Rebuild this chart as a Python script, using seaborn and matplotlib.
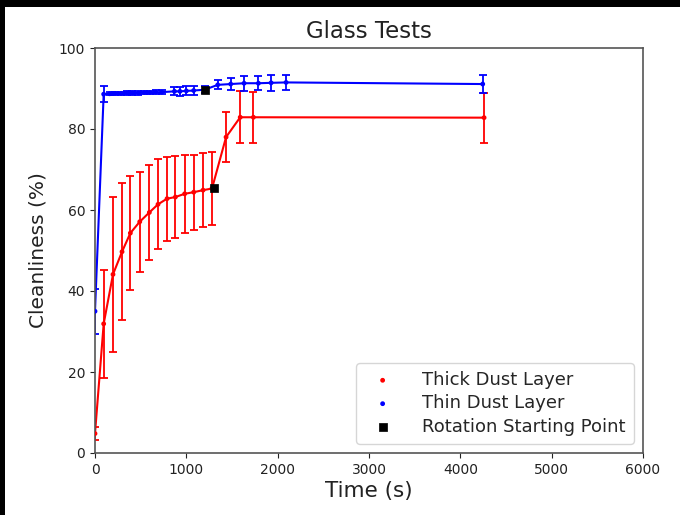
import matplotlib
matplotlib.use("Agg")
import matplotlib.pyplot as plt
import seaborn as sns
import pandas as pd
from matplotlib.patches import Rectangle

# Thick dust layer (red)
thick_t = [0, 95, 197, 296, 387, 490, 595, 690, 789, 880, 982, 1081, 1183, 1281, 1435, 1590, 1734, 4260]
thick_v = [4.8, 31.9, 44.1, 49.7, 54.3, 57.1, 59.4, 61.4, 62.8, 63.2, 64.0, 64.4, 64.9, 65.3, 78.0, 82.9, 82.9, 82.8]
thick_e = [1.7, 13.4, 19.2, 16.9, 14.1, 12.4, 11.7, 11.1, 10.4, 10.2, 9.6, 9.3, 9.2, 9.1, 6.2, 6.4, 6.3, 6.2]

# Thin dust layer (blue)
thin_t = [0, 95, 160, 220, 285, 350, 410, 475, 540, 600, 665, 730, 870, 930, 1000, 1080, 1200,
          1344, 1486, 1632, 1789, 1928, 2092, 4245]
thin_v = [35.0, 88.6, 88.7, 88.8, 88.8, 88.9, 88.9, 88.9, 89.0, 89.0, 89.1, 89.1, 89.3, 89.3, 89.4, 89.5, 89.7,
          90.9, 91.1, 91.3, 91.3, 91.4, 91.5, 91.1]
thin_e = [5.5, 2.0, 0.4, 0.4, 0.4, 0.4, 0.4, 0.4, 0.4, 0.4, 0.5, 0.5, 1.0, 1.1, 1.1, 1.2, 0.8,
          1.1, 1.5, 1.8, 1.7, 1.9, 1.9, 2.3]

# Rotation starting points
rot_t = [1200, 1300]
rot_v = [89.7, 65.4]

x_ticks = [0, 1000, 2000, 3000, 4000, 5000, 6000]
y_ticks = [0, 20, 40, 60, 80, 100]

sns.set_style("ticks")
plt.rcParams['font.family'] = ['DejaVu Sans']

fig = plt.figure(figsize=(6.8, 5.15), dpi=100)
fig.patch.set_facecolor("black")
fig.patches.append(Rectangle((5 / 680, 0), 1 - 5 / 680, (515 - 7) / 515,
                             transform=fig.transFigure, facecolor="white",
                             edgecolor="none", zorder=-10))
ax = fig.add_axes([95 / 680, (515 - 453) / 515, (643 - 95) / 680, (453 - 48) / 515])
ax.set_facecolor("white")

df_thick = pd.DataFrame({"t": thick_t, "v": thick_v})
df_thin = pd.DataFrame({"t": thin_t, "v": thin_v})
df_rot = pd.DataFrame({"t": rot_t, "v": rot_v})

sns.lineplot(data=df_thick, x="t", y="v", color="red", lw=1.5, ax=ax, sort=False, legend=False)
sns.lineplot(data=df_thin, x="t", y="v", color="blue", lw=1.5, ax=ax, sort=False, legend=False)
ax.errorbar(thick_t, thick_v, yerr=thick_e, fmt="none", ecolor="red", elinewidth=1.3, capsize=3, capthick=1.3)
ax.errorbar(thin_t, thin_v, yerr=thin_e, fmt="none", ecolor="blue", elinewidth=1.3, capsize=3, capthick=1.3)
sns.scatterplot(data=df_thick, x="t", y="v", color="red", marker="o", s=12, edgecolor="none",
                ax=ax, label="Thick Dust Layer", zorder=4)
sns.scatterplot(data=df_thin, x="t", y="v", color="blue", marker="o", s=12, edgecolor="none",
                ax=ax, label="Thin Dust Layer", zorder=4)
sns.scatterplot(data=df_rot, x="t", y="v", color="black", marker="s", s=40, edgecolor="black",
                ax=ax, label="Rotation Starting Point", zorder=5)

ax.set_xlim(0, 6000)
ax.set_ylim(0, 100)
ax.set_xticks(x_ticks)
ax.set_yticks(y_ticks)
ax.tick_params(labelsize=10, colors="#222222")
ax.set_title("Glass Tests", fontsize=16.5, color="#222222", pad=7)
ax.set_xlabel("Time (s)", fontsize=15.5, color="#222222", labelpad=3)
ax.set_ylabel("Cleanliness (%)", fontsize=14.5, color="#222222", labelpad=8)
for sp in ax.spines.values():
    sp.set_color("#555555")
    sp.set_linewidth(1.2)

leg = ax.legend(loc="lower right", fontsize=13, frameon=True, markerscale=1.0,
                handletextpad=1.2, borderpad=0.45, labelspacing=0.3)
leg.get_frame().set_edgecolor("#cccccc")

fig.savefig("out.png", dpi=100, facecolor=fig.get_facecolor())
